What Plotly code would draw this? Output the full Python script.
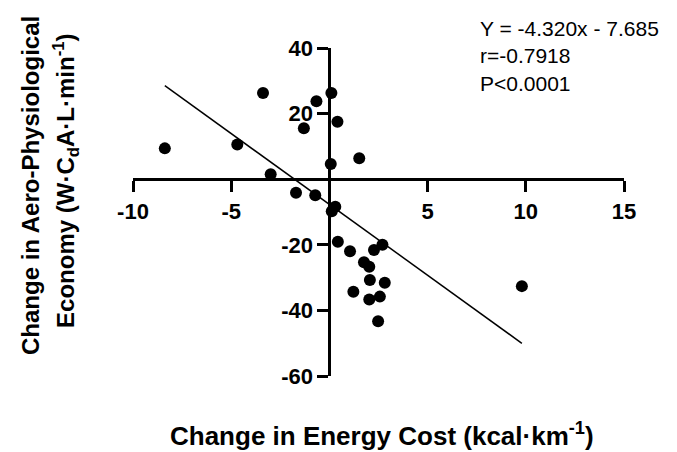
import plotly.graph_objects as go

# Data
energy_cost = [-8.38, -4.69, -3.38, -2.99, -1.70, -1.30, -0.72, -0.66, 0.07, 0.10,
               0.41, 1.52, 0.30, 0.12, 0.43, 1.05, 2.70, 2.27, 1.76, 2.03,
               2.06, 2.82, 1.22, 2.03, 2.57, 2.48, 9.80]
aero_economy = [9.4, 10.6, 26.3, 1.5, -4.1, 15.5, -4.9, 23.8, 4.6, 26.3,
                17.5, 6.4, -8.4, -9.8, -19.1, -22.0, -20.0, -21.6, -25.3, -26.7,
                -30.7, -31.6, -34.3, -36.7, -35.8, -43.3, -32.6]
slope = -4.320
intercept = -7.685
x_tickvals = [-10, -5, 5, 10, 15]
x_ticktext = ["-10", "-5", "5", "10", "15"]
y_tickvals = [-60, -40, -20, 20, 40]
y_ticktext = ["-60", "-40", "-20", "20", "40"]
x_range = [-10, 15]
y_range = [-60, 40]

FONT = "Arial, Liberation Sans, sans-serif"

fit_x = [min(energy_cost), max(energy_cost)]
fit_y = [slope * v + intercept for v in fit_x]

fig = go.Figure()
fig.add_trace(go.Scatter(x=fit_x, y=fit_y, mode="lines",
                         line=dict(color="black", width=1.5), showlegend=False))
fig.add_trace(go.Scatter(x=energy_cost, y=aero_economy, mode="markers",
                         marker=dict(color="black", size=12), showlegend=False,
                         cliponaxis=False))

# axis crossing positions (fraction of the plot area)
x_zero_frac = (0 - x_range[0]) / (x_range[1] - x_range[0])
y_zero_frac = (0 - y_range[0]) / (y_range[1] - y_range[0])

axis_common = dict(showgrid=False, zeroline=False, showline=True, linecolor="black",
                   linewidth=3, ticks="outside", ticklen=11, tickwidth=3, tickcolor="black",
                   tickfont=dict(family=FONT, size=22, color="black", weight="bold"))

fig.update_layout(
    width=677, height=452,
    margin=dict(l=132.5, r=52.5, t=47.5, b=76),
    paper_bgcolor="white", plot_bgcolor="white",
    xaxis=dict(range=x_range, tickvals=x_tickvals, ticktext=x_ticktext,
               anchor="free", position=y_zero_frac, **axis_common),
    yaxis=dict(range=y_range, tickvals=y_tickvals, ticktext=y_ticktext,
               anchor="free", position=x_zero_frac, **axis_common),
    font=dict(family=FONT, color="black"),
)

fig.add_annotation(text="Y = -4.320x - 7.685<br>r=-0.7918<br>P<0.0001",
                   xref="paper", yref="paper", x=(478 - 132.5) / 492, y=(376 - 14) / 328.5,
                   xanchor="left", yanchor="top",
                   align="left", showarrow=False,
                   font=dict(family=FONT, size=21, color="black"))

fig.add_annotation(text="<b>Change in Energy Cost (kcal·km<sup>-1</sup>)</b>",
                   xref="paper", yref="paper", x=(382 - 132.5) / 492, y=-(435 - 376) / 328.5,
                   xanchor="center", yanchor="middle", showarrow=False,
                   font=dict(family=FONT, size=26, color="black"))

fig.add_annotation(text="<b>Change in Aero-Physiological</b>",
                   xref="paper", yref="paper", x=(30 - 132.5) / 492, y=(376 - 185) / 328.5,
                   xanchor="center", yanchor="middle", showarrow=False, textangle=-90,
                   font=dict(family=FONT, size=24, color="black"))
fig.add_annotation(text="<b>Economy (W·C<sub>d</sub>A·L·min<sup>-1</sup>)</b>",
                   xref="paper", yref="paper", x=(66 - 132.5) / 492, y=(376 - 180) / 328.5,
                   xanchor="center", yanchor="middle", showarrow=False, textangle=-90,
                   font=dict(family=FONT, size=24, color="black"))

fig.write_html("out.html")
